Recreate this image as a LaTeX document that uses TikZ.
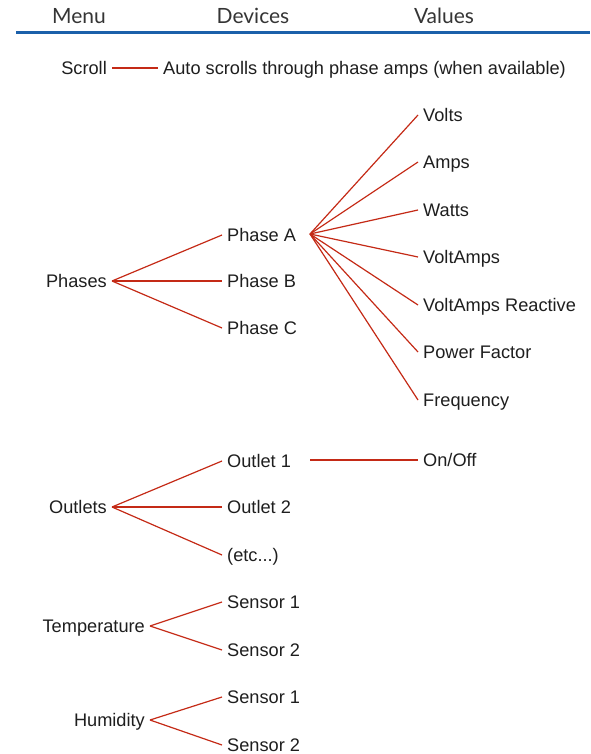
\documentclass[tikz,border=0pt]{standalone}
\usepackage{fontspec}
\setmainfont{Liberation Sans}
\newfontfamily\headfont{Lato}
\definecolor{txt}{HTML}{1E1E1E}
\definecolor{wire}{HTML}{C42A16}
\definecolor{rule}{HTML}{1B60AA}
\begin{document}
\begin{tikzpicture}[x=1pt,y=-1pt,
  head/.style={font=\headfont\fontsize{21}{24}\selectfont, text=txt!90, inner sep=0pt},
  lbl/.style={font=\fontsize{18.2}{21}\selectfont, text=txt, text height=13pt, text depth=0pt, inner xsep=5pt, inner ysep=0pt},
  lft/.style={lbl, anchor=east},
  rgt/.style={lbl, anchor=west},
  wire/.style={draw=wire, line width=1.2pt}]
\useasboundingbox (0,0) rectangle (590,754);
% headings
\node[head] (hmenu) at (79,16) {Menu};
\node[head] (hdev) at (253,16) {Devices};
\node[head] (hval) at (444,16) {Values};
\coordinate (rulel) at (16,33);
\coordinate (ruler) at (590,33);
\draw[rule, line width=3pt] (rulel) -- (ruler);
% scroll
\node[lft] (scroll) at (112,68) {Scroll};
\node[rgt] (auto) at (158,68) {Auto scrolls through phase amps (when available)};
\draw[wire] (scroll.east) -- (auto.west);
% phases
\node[lft] (phases) at (112,281) {Phases};
\node[rgt] (pa) at (222,235) {Phase A};
\node[rgt] (pb) at (222,281) {Phase B};
\node[rgt] (pc) at (222,328) {Phase C};
\foreach \n in {pa,pb,pc} \draw[wire] (phases.east) -- (\n.west);
\coordinate (pafan) at (310,234);
\node[rgt] (volts) at (418,115) {Volts};
\node[rgt] (amps) at (418,162) {Amps};
\node[rgt] (watts) at (418,210) {Watts};
\node[rgt] (va) at (418,257) {VoltAmps};
\node[rgt] (var) at (418,305) {VoltAmps Reactive};
\node[rgt] (pf) at (418,352) {Power Factor};
\node[rgt] (freq) at (418,400) {Frequency};
\foreach \n in {volts,amps,watts,va,var,pf,freq} \draw[wire] (pafan) -- (\n.west);
% outlets
\node[lft] (outlets) at (112,507) {Outlets};
\node[rgt] (o1) at (222,461) {Outlet 1};
\node[rgt] (o2) at (222,507) {Outlet 2};
\node[rgt] (oetc) at (222,555) {(etc...)};
\foreach \n in {o1,o2,oetc} \draw[wire] (outlets.east) -- (\n.west);
\coordinate (o1fan) at (310,460);
\node[rgt] (onoff) at (418,460) {On/Off};
\draw[wire] (o1fan) -- (onoff.west);
% temperature
\node[lft] (temp) at (150,626) {Temperature};
\node[rgt] (ts1) at (222,602) {Sensor 1};
\node[rgt] (ts2) at (222,650) {Sensor 2};
\foreach \n in {ts1,ts2} \draw[wire] (temp.east) -- (\n.west);
% humidity
\node[lft] (hum) at (150,720) {Humidity};
\node[rgt] (hs1) at (222,697) {Sensor 1};
\node[rgt] (hs2) at (222,745) {Sensor 2};
\foreach \n in {hs1,hs2} \draw[wire] (hum.east) -- (\n.west);
\end{tikzpicture}
\end{document}
